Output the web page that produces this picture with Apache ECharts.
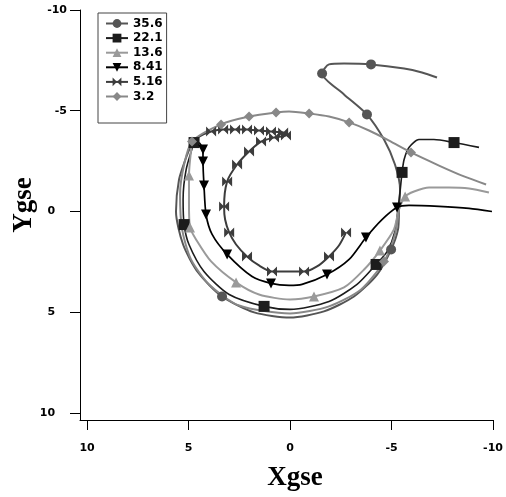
<!DOCTYPE html>
<html>
<head>
<meta charset="utf-8">
<script src="https://cdn.jsdelivr.net/npm/echarts@6/dist/echarts.min.js"></script>
<style>
  html, body { margin: 0; padding: 0; background: #ffffff; }
  #chart { width: 506px; height: 497px; }
</style>
</head>
<body>
<div id="chart"></div>
<script>
// Orbit traces in GSE coordinates (Earth radii), one per energy channel.
const seriesNames = ['35.6', '22.1', '13.6', '8.41', '5.16', '3.2'];
const axisTickValues = [-10, -5, 0, 5, 10];

const orbit356 = [[-7.24,-6.65],[-6.50,-6.90],[-5.62,-7.10],[-3.99,-7.30],[-2.66,-7.34],[-1.92,-7.30],[-1.58,-6.85],[-2.66,-5.81],[-3.79,-4.81],[-4.63,-3.57],[-5.17,-2.33],[-5.42,-1.09],[-5.37,-0.10],[-5.32,0.89],[-4.98,1.89],[-4.29,3.13],[-3.15,4.22],[-1.67,4.96],[0,5.26],[1.77,5.01],[3.35,4.22],[4.53,3.03],[5.27,1.64],[5.62,0],[5.47,-1.59],[5.12,-2.68],[4.83,-3.42]];
const marks356 = [3, 6, 8, 14, 20];

const orbit221 = [[-9.31,-3.18],[-8.08,-3.42],[-7.09,-3.57],[-6.35,-3.57],[-5.86,-3.18],[-5.62,-2.58],[-5.52,-1.94],[-5.42,-0.99],[-5.32,-0.15],[-5.17,0.99],[-4.78,1.99],[-4.24,2.63],[-3.30,3.62],[-1.92,4.47],[0,4.86],[1.28,4.71],[3.00,4.12],[4.24,2.98],[4.98,1.64],[5.22,0.65],[5.27,-0.60],[5.12,-2.08],[4.73,-3.42]];
const marks221 = [1, 6, 11, 15, 19, 22];

const orbit136 = [[-9.80,-0.94],[-8.82,-1.14],[-7.83,-1.19],[-6.85,-1.19],[-6.11,-0.99],[-5.67,-0.74],[-5.37,-0.10],[-5.12,0.89],[-4.43,1.94],[-3.65,2.88],[-2.66,3.77],[-1.18,4.22],[0,4.37],[1.53,4.12],[2.66,3.52],[3.89,2.48],[4.63,1.39],[4.93,0.79],[4.98,-0.35],[4.98,-1.79],[4.83,-3.42]];
const marks136 = [5, 8, 11, 14, 17, 19];

const orbit841 = [[-9.95,0],[-8.82,-0.15],[-7.34,-0.25],[-5.86,-0.30],[-5.27,-0.20],[-4.53,0.40],[-3.74,1.29],[-2.91,2.38],[-1.82,3.13],[-0.59,3.62],[0.05,3.67],[0.94,3.57],[1.87,3.23],[3.10,2.13],[3.84,1.14],[4.14,0.15],[4.24,-1.29],[4.29,-2.48],[4.29,-3.08],[4.48,-3.42]];
const marks841 = [4, 6, 8, 11, 13, 15, 16, 17, 18];

const orbit516 = [[-2.76,1.04],[-2.41,1.69],[-1.92,2.23],[-1.33,2.73],[-0.69,2.98],[0.05,2.98],[0.89,2.98],[1.53,2.68],[2.12,2.23],[2.66,1.64],[3.00,1.04],[3.20,0.40],[3.25,-0.25],[3.10,-1.49],[2.61,-2.33],[2.02,-2.98],[1.43,-3.47],[0.79,-3.67],[0.20,-3.77],[0.34,-3.92],[0.94,-3.97],[1.53,-4.02],[2.12,-4.07],[2.71,-4.07],[3.30,-4.07],[3.89,-3.97],[4.48,-3.72],[4.83,-3.42]];
const marks516 = [0, 2, 4, 6, 8, 10, 12, 13, 14, 15, 16, 17, 18, 19, 20, 21, 22, 23, 24, 25];

const orbit32 = [[-9.66,-1.34],[-8.57,-1.74],[-7.34,-2.28],[-5.96,-2.93],[-4.88,-3.52],[-3.89,-4.02],[-2.91,-4.42],[-1.92,-4.71],[-0.94,-4.86],[0.05,-4.96],[0.69,-4.91],[2.02,-4.71],[3.40,-4.32],[4.83,-3.47],[5.22,-2.33],[5.42,-0.84],[5.32,0.89],[4.88,2.38],[3.99,3.62],[2.51,4.67],[0,5.06],[-1.92,4.71],[-3.50,3.87],[-4.63,2.48],[-5.17,1.14],[-5.37,-0.10]];
const marks32 = [3, 6, 8, 10, 11, 12, 13, 23];

const bowtie = 'path://M0,0L10,10L10,0L0,10Z';
const downTriangle = 'path://M0,0L10,0L5,10Z';

const styles = [
  { orbit: orbit356, marks: marks356, color: '#555555', symbol: 'circle', size: 10, width: 2 },
  { orbit: orbit221, marks: marks221, color: '#1c1c1c', symbol: 'rect', size: 11, width: 1.6 },
  { orbit: orbit136, marks: marks136, color: '#9a9a9a', symbol: 'triangle', size: 10, width: 2 },
  { orbit: orbit841, marks: marks841, color: '#000000', symbol: downTriangle, size: 10, width: 1.7 },
  { orbit: orbit516, marks: marks516, color: '#3c3c3c', symbol: bowtie, size: 10, width: 2 },
  { orbit: orbit32, marks: marks32, color: '#888888', symbol: 'diamond', size: 10, width: 2 }
];

const tickFont = { fontFamily: 'DejaVu Sans', fontWeight: 'bold', fontSize: 11, color: '#000' };

const series = styles.map((s, k) => ({
  name: seriesNames[k],
  type: 'line',
  symbol: s.symbol,
  symbolSize: s.size,
  smooth: 0.25,
  color: s.color,
  lineStyle: { color: s.color, width: s.width },
  itemStyle: { color: s.color },
  emphasis: { disabled: true },
  data: s.orbit.map((p, i) => s.marks.includes(i) ? { value: p } : { value: p, symbol: 'none' })
}));

const chart = echarts.init(document.getElementById('chart'), null, { renderer: 'canvas' });
chart.setOption({
  animation: false,
  backgroundColor: '#ffffff',
  grid: { left: 80, right: 13, top: 10, bottom: 77, containLabel: false, outerBoundsMode: 'none' },
  legend: {
    orient: 'vertical',
    left: 98,
    top: 13,
    padding: [4.5, 4, 20.5, 7],
    itemWidth: 22,
    itemHeight: 11,
    itemGap: 2.6,
    itemTextGap: 3,
    borderColor: '#444',
    borderWidth: 1,
    selectedMode: false,
    data: seriesNames,
    textStyle: { fontFamily: 'DejaVu Sans', fontWeight: 'bold', fontSize: 12, lineHeight: 11, color: '#000' }
  },
  xAxis: {
    type: 'value',
    inverse: true,
    min: -10,
    max: 10.35,
    name: 'Xgse',
    nameLocation: 'middle',
    nameGap: 45,
    nameMoveOverlap: false,
    nameTextStyle: { fontFamily: 'Liberation Serif', fontWeight: 'bold', fontSize: 27, color: '#000', padding: [0, 0, 0, 17] },
    axisLine: { onZero: false, lineStyle: { color: '#000', width: 1 } },
    axisTick: { inside: false, length: 10, customValues: axisTickValues, lineStyle: { color: '#000', width: 1 } },
    axisLabel: Object.assign({ margin: 23, customValues: axisTickValues, formatter: v => String(v) }, tickFont),
    splitLine: { show: false }
  },
  yAxis: {
    type: 'value',
    inverse: true,
    min: -10,
    max: 10.35,
    name: 'Ygse',
    nameLocation: 'middle',
    nameRotate: 90,
    nameGap: 42,
    nameMoveOverlap: false,
    nameTextStyle: { fontFamily: 'Liberation Serif', fontWeight: 'bold', fontSize: 27, color: '#000', padding: [0, 0, 0, 20] },
    axisLine: { onZero: false, lineStyle: { color: '#000', width: 1 } },
    axisTick: { inside: false, length: 10, customValues: axisTickValues, lineStyle: { color: '#000', width: 1 } },
    // non-negative labels sit further left than the signed ones
    axisLabel: Object.assign({
      margin: 13,
      customValues: axisTickValues,
      formatter: v => (v < 0 ? String(v) : v + '\u2007\u2008')
    }, tickFont),
    splitLine: { show: false }
  },
  series: series
});
</script>
</body>
</html>
